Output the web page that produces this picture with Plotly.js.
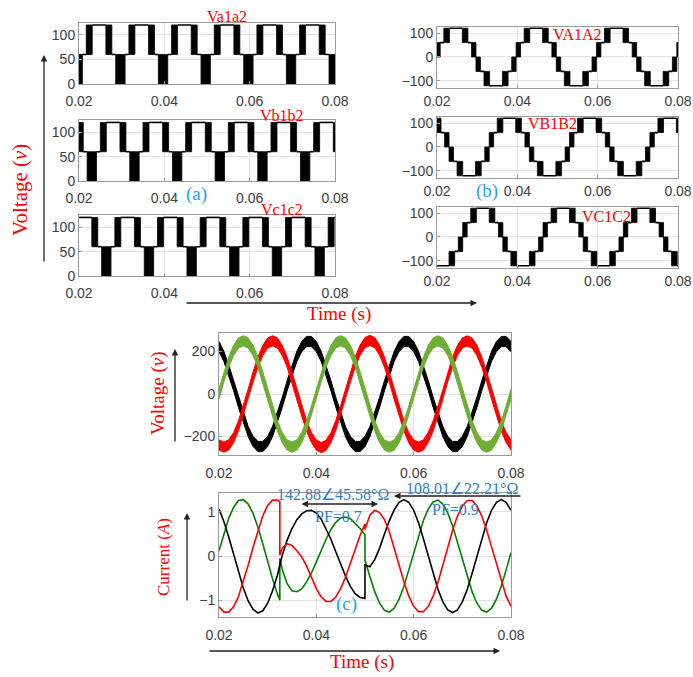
<!DOCTYPE html>
<html><head><meta charset="utf-8">
<script src="https://cdn.plot.ly/plotly-3.0.1.min.js"></script>
<style>html,body{margin:0;padding:0;background:#fff}#chart{width:693px;height:677px}</style>
</head><body><div id="chart"></div>
<script>
// ---------- shared axis ticks ----------
const xTicks = [0.02, 0.04, 0.06, 0.08];
const xTickText = ['0.02', '0.04', '0.06', '0.08'];
const yTicksLeft = [0, 50, 100];
const yTicksRight = [-100, 0, 100];
const yTicksVolt = [-200, 0, 200];
const yTicksCurr = [-1, 0, 1];

// ---------- (a)/(b) multilevel waveforms: segment edges (s) and levels (V); [lo,hi] = PWM band ----------
const tA = [0.0186,0.0197,0.0208,0.0217,0.0231,0.0263,0.0277,0.0286,0.0297,0.0308,0.0317,0.0331,0.0363,0.0377,
            0.0386,0.0397,0.0408,0.0417,0.0431,0.0463,0.0477,0.0486,0.0497,0.0508,0.0517,0.0531,0.0563,0.0577,
            0.0586,0.0597,0.0608,0.0617,0.0631,0.0663,0.0677,0.0686,0.0697,0.0708,0.0717,0.0731,0.0763,0.0777,
            0.0786,0.0797,0.0808];
const levA = [[-60,0],[0,60],60,[60,120],120,[60,120],60,[0,60],[-60,0],-60,[-120,-60],-120,[-120,-60],-60,
              [-60,0],[0,60],60,[60,120],120,[60,120],60,[0,60],[-60,0],-60,[-120,-60],-120,[-120,-60],-60,
              [-60,0],[0,60],60,[60,120],120,[60,120],60,[0,60],[-60,0],-60,[-120,-60],-120,[-120,-60],-60,
              [-60,0],[0,60]];
const levA12 = [[0,60],[0,60],60,[60,120],120,[60,120],60,[0,60],[0,60],60,[60,120],120,[60,120],60,
                [0,60],[0,60],60,[60,120],120,[60,120],60,[0,60],[0,60],60,[60,120],120,[60,120],60,
                [0,60],[0,60],60,[60,120],120,[60,120],60,[0,60],[0,60],60,[60,120],120,[60,120],60,
                [0,60],[0,60]];

const tB = [0.0164,0.0196,0.0210,0.0219,0.0230,0.0241,0.0250,0.0264,0.0296,0.0310,0.0319,
            0.0330,0.0341,0.0350,0.0364,0.0396,0.0410,0.0419,0.0430,0.0441,0.0450,0.0464,0.0496,0.0510,0.0519,
            0.0530,0.0541,0.0550,0.0564,0.0596,0.0610,0.0619,0.0630,0.0641,0.0650,0.0664,0.0696,0.0710,0.0719,
            0.0730,0.0741,0.0750,0.0764,0.0796,0.0810];
const levB = [120,[60,120],60,[0,60],[-60,0],-60,[-120,-60],-120,[-120,-60],-60,[-60,0],
              [0,60],60,[60,120],120,[60,120],60,[0,60],[-60,0],-60,[-120,-60],-120,[-120,-60],-60,[-60,0],
              [0,60],60,[60,120],120,[60,120],60,[0,60],[-60,0],-60,[-120,-60],-120,[-120,-60],-60,[-60,0],
              [0,60],60,[60,120],120,[60,120]];
const levB12 = [120,[60,120],60,[0,60],[0,60],60,[60,120],120,[60,120],60,[0,60],
                [0,60],60,[60,120],120,[60,120],60,[0,60],[0,60],60,[60,120],120,[60,120],60,[0,60],
                [0,60],60,[60,120],120,[60,120],60,[0,60],[0,60],60,[60,120],120,[60,120],60,[0,60],
                [0,60],60,[60,120],120,[60,120]];

const tC = [0.0198,0.0230,0.0244,0.0253,
            0.0264,0.0275,0.0284,0.0298,0.0330,0.0344,0.0353,0.0364,0.0375,0.0384,0.0398,0.0430,0.0444,0.0453,
            0.0464,0.0475,0.0484,0.0498,0.0530,0.0544,0.0553,0.0564,0.0575,0.0584,0.0598,0.0630,0.0644,0.0653,
            0.0664,0.0675,0.0684,0.0698,0.0730,0.0744,0.0753,0.0764,0.0775,0.0784,0.0798,0.0830];
const levC = [-120,[-120,-60],-60,[-60,0],
              [0,60],60,[60,120],120,[60,120],60,[0,60],[-60,0],-60,[-120,-60],-120,[-120,-60],-60,[-60,0],
              [0,60],60,[60,120],120,[60,120],60,[0,60],[-60,0],-60,[-120,-60],-120,[-120,-60],-60,[-60,0],
              [0,60],60,[60,120],120,[60,120],60,[0,60],[-60,0],-60,[-120,-60],-120];
const levC12 = [120,[60,120],60,[0,60],
                [0,60],60,[60,120],120,[60,120],60,[0,60],[0,60],60,[60,120],120,[60,120],60,[0,60],
                [0,60],60,[60,120],120,[60,120],60,[0,60],[0,60],60,[60,120],120,[60,120],60,[0,60],
                [0,60],60,[60,120],120,[60,120],60,[0,60],[0,60],60,[60,120],120];

// ---------- (c) voltages (V) ----------
const tV = [0.020,0.021,0.022,0.023,0.024,0.025,0.026,0.027,0.028,0.029,0.030,0.031,0.032,0.033,0.034,0.035,0.036,0.037,0.038,0.039,
            0.040,0.041,0.042,0.043,0.044,0.045,0.046,0.047,0.048,0.049,0.050,0.051,0.052,0.053,0.054,0.055,0.056,0.057,0.058,0.059,
            0.060,0.061,0.062,0.063,0.064,0.065,0.066,0.067,0.068,0.069,0.070,0.071,0.072,0.073,0.074,0.075,0.076,0.077,0.078,0.079,0.080];
const vRed = [-240,-250,-240,-205,-150,-80,0,80,150,205,240,250,240,205,150,80,0,-80,-150,-205,
              -240,-252,-242,-205,-148,-78,2,80,152,206,242,252,242,206,150,78,-2,-80,-150,-206,
              -240,-250,-240,-204,-150,-80,0,82,150,205,240,250,240,205,150,80,0,-80,-150,-205,-240];
const vBlack = [223,177,113,39,-39,-113,-177,-223,-247,-247,-223,-177,-113,-39,39,113,177,223,247,247,
                223,177,113,39,-39,-113,-177,-223,-247,-247,-223,-177,-113,-39,39,113,177,223,247,247,
                223,177,113,39,-39,-113,-177,-223,-247,-247,-223,-177,-113,-39,39,113,177,223,247,247,223];
const vGreen = [0,80,150,205,240,250,240,205,150,80,0,-80,-150,-205,-240,-250,-240,-205,-150,-80,
                0,80,150,205,240,250,240,205,150,80,0,-80,-150,-205,-240,-250,-240,-205,-150,-80,
                0,80,150,205,240,250,240,205,150,80,0,-80,-150,-205,-240,-250,-240,-205,-150,-80,0];
const vRipple = 24;

// ---------- (c) currents (A) ----------
const tI = [0.020,0.021,0.022,0.023,0.024,0.025,0.026,0.027,0.028,0.029,0.030,0.031,0.032,0.0325,0.0325,
            0.033,0.034,0.035,0.036,0.037,0.038,0.039,0.040,0.041,0.042,0.043,0.044,0.045,0.046,0.047,0.048,0.049,0.050,0.050,
            0.051,0.052,0.053,0.054,0.055,0.056,0.057,0.058,0.059,0.060,0.061,0.062,0.063,0.064,0.065,0.066,0.067,0.068,0.069,0.070,
            0.071,0.072,0.073,0.074,0.075,0.076,0.077,0.078,0.079,0.080];
const iRed = [-1.14,-1.26,-1.26,-1.14,-0.91,-0.58,-0.20,0.20,0.58,0.91,1.14,1.26,1.26,1.22,0.02,
              0.18,0.28,0.24,0.12,-0.02,-0.22,-0.48,-0.73,-0.92,-1.02,-1.02,-0.92,-0.73,-0.47,-0.16,0.16,0.47,0.72,0.60,
              0.92,1.03,0.98,0.82,0.55,0.20,-0.20,-0.58,-0.90,-1.13,-1.25,-1.25,-1.13,-0.90,-0.58,-0.20,0.20,0.58,0.90,1.13,
              1.25,1.25,1.13,0.90,0.58,0.20,-0.20,-0.58,-0.90,-1.13];
const iBlack = [1.06,0.78,0.43,0.04,-0.36,-0.72,-1.01,-1.20,-1.28,-1.23,-1.06,-0.78,-0.43,-0.24,-0.20,
                0.02,0.36,0.62,0.82,0.95,1.02,1.03,0.97,0.83,0.62,0.38,0.10,-0.18,-0.45,-0.68,-0.85,-0.93,-0.95,-0.20,
                -0.24,-0.08,0.18,0.50,0.80,1.04,1.21,1.27,1.21,1.03,0.75,0.39,0.00,-0.39,-0.75,-1.03,-1.21,-1.27,-1.21,-1.03,
                -0.75,-0.39,0.00,0.39,0.75,1.03,1.21,1.27,1.21,1.03];
const iGreen = [0.12,0.51,0.85,1.10,1.25,1.27,1.17,0.96,0.65,0.28,-0.12,-0.51,-0.85,-0.99,-0.05,
                -0.30,-0.62,-0.78,-0.80,-0.74,-0.58,-0.38,-0.13,0.13,0.38,0.60,0.76,0.86,0.88,0.84,0.74,0.62,0.48,-0.10,
                -0.46,-0.80,-1.06,-1.22,-1.26,-1.17,-0.97,-0.68,-0.31,0.08,0.46,0.80,1.06,1.22,1.26,1.17,0.97,0.68,0.31,-0.08,
                -0.46,-0.80,-1.06,-1.22,-1.26,-1.17,-0.97,-0.68,-0.31,0.08];

// ---------- helpers ----------
const W = 693, H = 677;
const dx = (a, b) => [a / W, b / W];
const dy = (top, bot) => [1 - bot / H, 1 - top / H];
const px = x => x / W, py = y => 1 - y / H;
const TICKFONT = {family: 'Liberation Sans, Arial, sans-serif', size: 14, color: '#404040'};
const SERIF = 'Liberation Serif, Times New Roman, serif';

function xAxis(dom, anchor, standoff) {
  return {domain: dom, anchor: anchor, range: [0.02, 0.08], tickvals: xTicks, ticktext: xTickText,
    showgrid: true, gridcolor: '#e4e4e4', zeroline: false, showline: true, mirror: true,
    linecolor: '#9a9a9a', linewidth: 1, ticks: 'inside', ticklen: 3, tickcolor: '#9a9a9a',
    tickfont: TICKFONT, fixedrange: true, ticklabelstandoff: standoff, ticklabeloverflow: 'allow'};
}
function yAxis(dom, anchor, range, ticks) {
  return {domain: dom, anchor: anchor, range: range, tickvals: ticks,
    showgrid: true, gridcolor: '#e4e4e4', zeroline: false, showline: true, mirror: true,
    linecolor: '#9a9a9a', linewidth: 1, ticks: 'inside', ticklen: 3, tickcolor: '#9a9a9a',
    tickfont: TICKFONT, fixedrange: true};
}

function stepTraces(edges, levels, xa, ya) {
  const bx = [], by = [], fx = [], fy = [];
  for (let i = 0; i < levels.length; i++) {
    const t0 = edges[i], t1 = edges[i + 1], L = levels[i];
    if (Array.isArray(L)) {
      bx.push(t0, t1, t1, t0, t0, null); by.push(L[0], L[0], L[1], L[1], L[0], null);
    } else {
      fx.push(t0, t1, null); fy.push(L, L, null);
    }
  }
  return [
    {x: bx, y: by, xaxis: xa, yaxis: ya, mode: 'lines', fill: 'toself', fillcolor: '#000',
     line: {color: '#000', width: 0.8}, hoverinfo: 'skip'},
    {x: fx, y: fy, xaxis: xa, yaxis: ya, mode: 'lines', line: {color: '#000', width: 1.6}, hoverinfo: 'skip'}
  ];
}
function noisyBand(t, v, ripple, color, xa, ya) {
  const up = v.map(a => a + ripple), lo = v.map(a => a - ripple);
  return {x: t.concat(t.slice().reverse()), y: up.concat(lo.slice().reverse()), xaxis: xa, yaxis: ya,
    mode: 'lines', fill: 'toself', fillcolor: color, line: {color: color, width: 1}, hoverinfo: 'skip'};
}

const traces = [].concat(
  stepTraces(tA, levA12, 'x', 'y'),
  stepTraces(tB, levB12, 'x2', 'y2'),
  stepTraces(tC, levC12, 'x3', 'y3'),
  stepTraces(tA, levA, 'x4', 'y4'),
  stepTraces(tB, levB, 'x5', 'y5'),
  stepTraces(tC, levC, 'x6', 'y6'),
  [noisyBand(tV, vBlack, vRipple, '#000000', 'x7', 'y7'),
   noisyBand(tV, vRed, vRipple, '#ff0000', 'x7', 'y7'),
   noisyBand(tV, vGreen, vRipple, '#6fae34', 'x7', 'y7'),
   {x: tI, y: iGreen, xaxis: 'x8', yaxis: 'y8', mode: 'lines', line: {color: '#008000', width: 1.6}},
   {x: tI, y: iBlack, xaxis: 'x8', yaxis: 'y8', mode: 'lines', line: {color: '#000000', width: 1.6}},
   {x: tI, y: iRed, xaxis: 'x8', yaxis: 'y8', mode: 'lines', line: {color: '#ff0000', width: 1.6}}]
);

const LR = [-128, 125];
const layout = {
  width: W, height: H, margin: {l: 0, r: 0, t: 0, b: 0}, showlegend: false,
  paper_bgcolor: '#fff', plot_bgcolor: '#fff',
  xaxis: xAxis(dx(79, 335), 'y', 4),   yaxis: yAxis(dy(22.5, 84), 'x', [0, 125], yTicksLeft),
  xaxis2: xAxis(dx(79, 335), 'y2', 4), yaxis2: yAxis(dy(120, 181), 'x2', [0, 125], yTicksLeft),
  xaxis3: xAxis(dx(79, 335), 'y3', 4), yaxis3: yAxis(dy(215, 276), 'x3', [0, 125], yTicksLeft),
  xaxis4: xAxis(dx(437, 678), 'y4', 0), yaxis4: yAxis(dy(27, 87.7), 'x4', LR, yTicksRight),
  xaxis5: xAxis(dx(437, 678), 'y5', 0), yaxis5: yAxis(dy(117, 177.7), 'x5', LR, yTicksRight),
  xaxis6: xAxis(dx(437, 678), 'y6', 0), yaxis6: yAxis(dy(207, 267.7), 'x6', LR, yTicksRight),
  xaxis7: xAxis(dx(219, 511), 'y7', 5), yaxis7: yAxis(dy(333, 455), 'x7', [-287, 287], yTicksVolt),
  xaxis8: xAxis(dx(219, 511), 'y8', 5), yaxis8: yAxis(dy(493, 617), 'x8', [-1.37, 1.42], yTicksCurr),
  annotations: []
};

const RED = '#ff0000', CYAN = '#1fa6e8', BLUE = '#2f7fc1';
function txt(s, x, y, size, color, angle) {
  layout.annotations.push({text: s, x: px(x), y: py(y), xref: 'paper', yref: 'paper', showarrow: false,
    xanchor: 'center', yanchor: 'middle', textangle: angle || 0, font: {family: SERIF, size: size, color: color}});
}
function arrow(hx, hy, tx, ty, both) {
  layout.annotations.push({text: '', x: px(hx), y: py(hy), xref: 'paper', yref: 'paper', showarrow: true,
    ax: tx - hx, ay: ty - hy, arrowhead: 2, arrowsize: 1, arrowwidth: 1.3, arrowcolor: '#222',
    arrowside: both ? 'end+start' : 'end', startarrowhead: 2, startarrowsize: 1, standoff: 0, startstandoff: 0});
}
txt('Va1a2', 227, 17, 16, RED);
txt('Vb1b2', 282, 115, 16, RED);
txt('Vc1c2', 282, 209, 16, RED);
txt('VA1A2', 577, 35, 16, RED);
txt('VB1B2', 552, 124, 16, RED);
txt('VC1C2', 606, 216, 16, RED);
txt('(a)', 196, 194, 19, CYAN);
txt('(b)', 487, 191, 19, CYAN);
txt('(c)', 347, 604, 19, CYAN);
txt('Voltage (<i>v</i>)', 20, 190, 21, RED, -90);
txt('Time (s)', 339, 314, 19, RED);
txt('Voltage (<i>v</i>)', 158, 393, 19, RED, -90);
txt('Current (<i>A</i>)', 163, 557, 17, RED, -90);
txt('Time (s)', 362, 662, 19, RED);
txt('142.88∠45.58°Ω', 333, 494, 16, BLUE);
txt('PF=0.7', 338, 516, 16, BLUE);
txt('108.01∠22.21°Ω', 462, 488, 16, BLUE);
txt('PF=0.9', 455, 510, 16, BLUE);
arrow(44, 55, 44, 263);
arrow(477, 303, 185, 303);
arrow(175, 349, 175, 443);
arrow(187, 513, 187, 602);
arrow(500, 651, 208, 651);
arrow(378, 504, 300, 504, true);
arrow(394, 496, 522, 496);

Plotly.newPlot('chart', traces, layout, {displayModeBar: false, staticPlot: true});
</script></body></html>
